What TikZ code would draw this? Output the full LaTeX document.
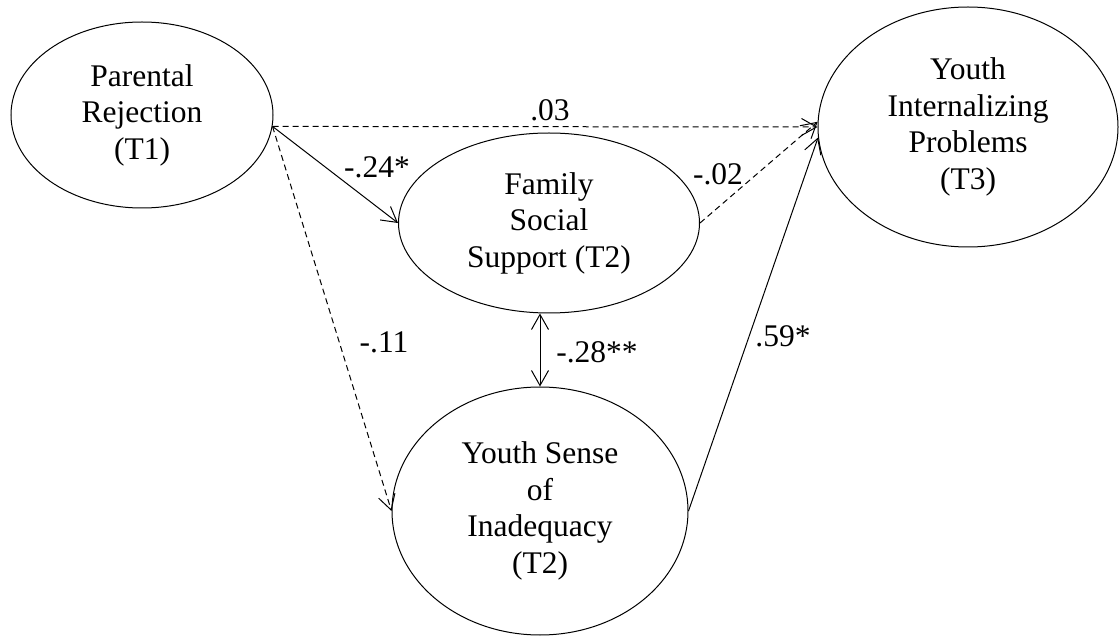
\documentclass[tikz,border=0pt]{standalone}
\usepackage{fontspec}
\setmainfont{Liberation Serif}
\usetikzlibrary{shapes.geometric,arrows.meta}
\begin{document}
\begin{tikzpicture}[x=1pt,y=-1pt,
  latent/.style={draw, ellipse, line width=1pt, inner sep=0pt, align=center,
    font=\fontsize{31.5}{36.5}\selectfont},
  tip/.style={Straight Barb[length=15pt,width=17pt]},
  path/.style={line width=1pt, -{Straight Barb[length=15pt,width=17pt]}},
  nspath/.style={path, dash pattern=on 6pt off 4pt},
  coef/.style={font=\fontsize{31.5}{36}\selectfont, inner sep=0pt, anchor=base}]

\useasboundingbox (0,0) rectangle (1120,644);

% latent variables
\node[latent, minimum width=262pt, minimum height=186pt] (PR)  at (142,115) {Parental\\Rejection\\(T1)};
\node[latent, minimum width=300pt, minimum height=240pt] (YIP) at (968,127) {Youth\\Internalizing\\Problems\\(T3)};
\node[latent, minimum width=301pt, minimum height=180pt] (FSS) at (549,223) {Family\\Social\\Support (T2)};
\node[latent, minimum width=296pt, minimum height=248pt] (YSI) at (540,511) {Youth Sense\\of\\Inadequacy\\(T2)};

% structural paths
\coordinate (src) at (PR.-5);
\draw[nspath] (src) -- (YIP.west);
\draw[path] (src) -- (FSS.west);
\draw[nspath] (src) -- (YSI.west);
\draw[nspath] (FSS.east) -- (YIP.178);
\draw[path] (YSI.east) -- (YIP.184);
\draw[line width=1pt, {Straight Barb[length=15pt,width=17pt]}-{Straight Barb[length=15pt,width=17pt]}]
  (FSS.south -| YSI.north) -- (YSI.north);

% path coefficients
\node[coef] (c1) at (550,121) {.03};
\node[coef] (c2) at (377,178) {-.24*};
\node[coef] (c3) at (718,185) {-.02};
\node[coef] (c4) at (384,353) {-.11};
\node[coef] (c5) at (597,363) {-.28**};
\node[coef] (c6) at (783,347) {.59*};
\end{tikzpicture}
\end{document}
